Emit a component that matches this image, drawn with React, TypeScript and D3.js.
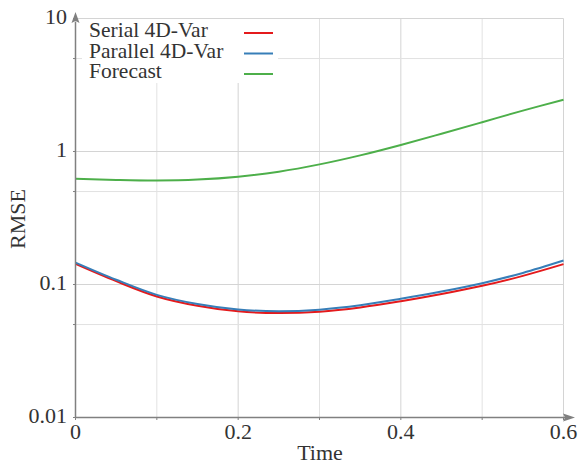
import React from "react";
import * as d3 from "d3";

const times = [0, 0.05, 0.1, 0.15, 0.2, 0.25, 0.3, 0.35, 0.4, 0.45, 0.5, 0.55, 0.6];
const serial = [0.1429, 0.1059, 0.0813, 0.0692, 0.0628, 0.0610, 0.0625, 0.0672, 0.0748, 0.0847, 0.0977, 0.1161, 0.1422];
const parallel = [0.1462, 0.1086, 0.0836, 0.0713, 0.0648, 0.0630, 0.0647, 0.0697, 0.0780, 0.0885, 0.1023, 0.1222, 0.1514];
const forecast = [0.624, 0.611, 0.605, 0.615, 0.646, 0.705, 0.800, 0.935, 1.12, 1.36, 1.66, 2.03, 2.45];

const seriesNames = ["Serial 4D-Var", "Parallel 4D-Var", "Forecast"];
const seriesColors = ["#e41a1c", "#377eb8", "#4daf4a"];
const seriesValues = [serial, parallel, forecast];

const xTicks = [0, 0.2, 0.4, 0.6];
const xGrid = [0, 0.1, 0.2, 0.3, 0.4, 0.5, 0.6];
const yTicks = [0.01, 0.1, 1, 10];
const yTickLabels = ["0.01", "0.1", "1", "10"];
const yGrid = [0.01, 0.05, 0.1, 0.5, 1, 5, 10];

const W = 580;
const H = 464;
const left = 75.5;
const right = 563.5;
const top = 18.5;
const bottom = 417.5;
const FONT = "'Liberation Serif', 'Times New Roman', serif";
const TXT = "#333";
const AX = "#808080";

export default function App() {
  const x = d3.scaleLinear().domain([0, 0.6]).range([left, right]);
  const y = d3.scaleLog().domain([0.01, 10]).range([bottom, top]);
  const line = d3
    .line<number>()
    .x((_, i) => x(times[i]))
    .y((d) => y(d))
    .curve(d3.curveCatmullRom.alpha(0.5));

  const legendX = 89;
  const legendY0 = 37;
  const legendDy = 20.5;

  return (
    <svg
      width={W}
      height={H}
      style={{ position: "fixed", left: 0, top: 0, background: "#fff" }}
      fontFamily={FONT}
    >
      <rect x={0} y={0} width={W} height={H} fill="#fff" />
      {xGrid.map((t) => (
        <line
          key={"xg" + t}
          x1={x(t)}
          x2={x(t)}
          y1={top}
          y2={bottom}
          stroke={xTicks.includes(t) ? "#d4d4d4" : "#e2e2e2"}
          strokeWidth={1}
        />
      ))}
      {yGrid.map((v) => (
        <line
          key={"yg" + v}
          x1={left}
          x2={right}
          y1={y(v)}
          y2={y(v)}
          stroke={yTicks.includes(v) ? "#d4d4d4" : "#e2e2e2"}
          strokeWidth={1}
        />
      ))}
      {seriesValues.map((vals, i) => (
        <path
          key={"s" + i}
          d={line(vals) || ""}
          fill="none"
          stroke={seriesColors[i]}
          strokeWidth={2}
        />
      ))}
      <rect x={82} y={19} width={196} height={64} fill="#fff" />
      {seriesNames.map((n, i) => (
        <g key={"l" + i}>
          <text x={legendX} y={legendY0 + i * legendDy} fontSize={21.5} fill={TXT}>
            {n}
          </text>
          <line
            x1={244}
            x2={273}
            y1={legendY0 - 4 + i * legendDy}
            y2={legendY0 - 4 + i * legendDy}
            stroke={seriesColors[i]}
            strokeWidth={2}
          />
        </g>
      ))}
      <line x1={left} x2={left} y1={bottom} y2={22} stroke={AX} strokeWidth={1.5} />
      <path d={`M${left},12 L${left + 4},23 L${left},21 L${left - 4},23 Z`} fill={AX} />
      <line x1={left} x2={566} y1={bottom} y2={bottom} stroke={AX} strokeWidth={1.5} />
      <path d={`M575,${bottom} L563,${bottom - 4} L565,${bottom} L563,${bottom + 4} Z`} fill={AX} />
      {yGrid.map((v) => (
        <line key={"yt" + v} x1={left - 2.5} x2={left} y1={y(v)} y2={y(v)} stroke={AX} strokeWidth={1} />
      ))}
      {xGrid.map((t) => (
        <line key={"xt" + t} x1={x(t)} x2={x(t)} y1={bottom} y2={bottom + 2.5} stroke={AX} strokeWidth={1} />
      ))}
      {yTicks.map((v, i) => (
        <text
          key={"yl" + v}
          x={67}
          y={y(v) + 5}
          textAnchor="end"
          fontSize={22}
          fill={TXT}
        >
          {yTickLabels[i]}
        </text>
      ))}
      {xTicks.map((t) => (
        <text key={"xl" + t} x={x(t)} y={439} textAnchor="middle" fontSize={22} fill={TXT}>
          {String(t)}
        </text>
      ))}
      <text x={320} y={460} textAnchor="middle" fontSize={22} fill={TXT}>
        Time
      </text>
      <text
        transform={`translate(25,219) rotate(-90)`}
        textAnchor="middle"
        fontSize={22}
        fill={TXT}
      >
        RMSE
      </text>
    </svg>
  );
}
